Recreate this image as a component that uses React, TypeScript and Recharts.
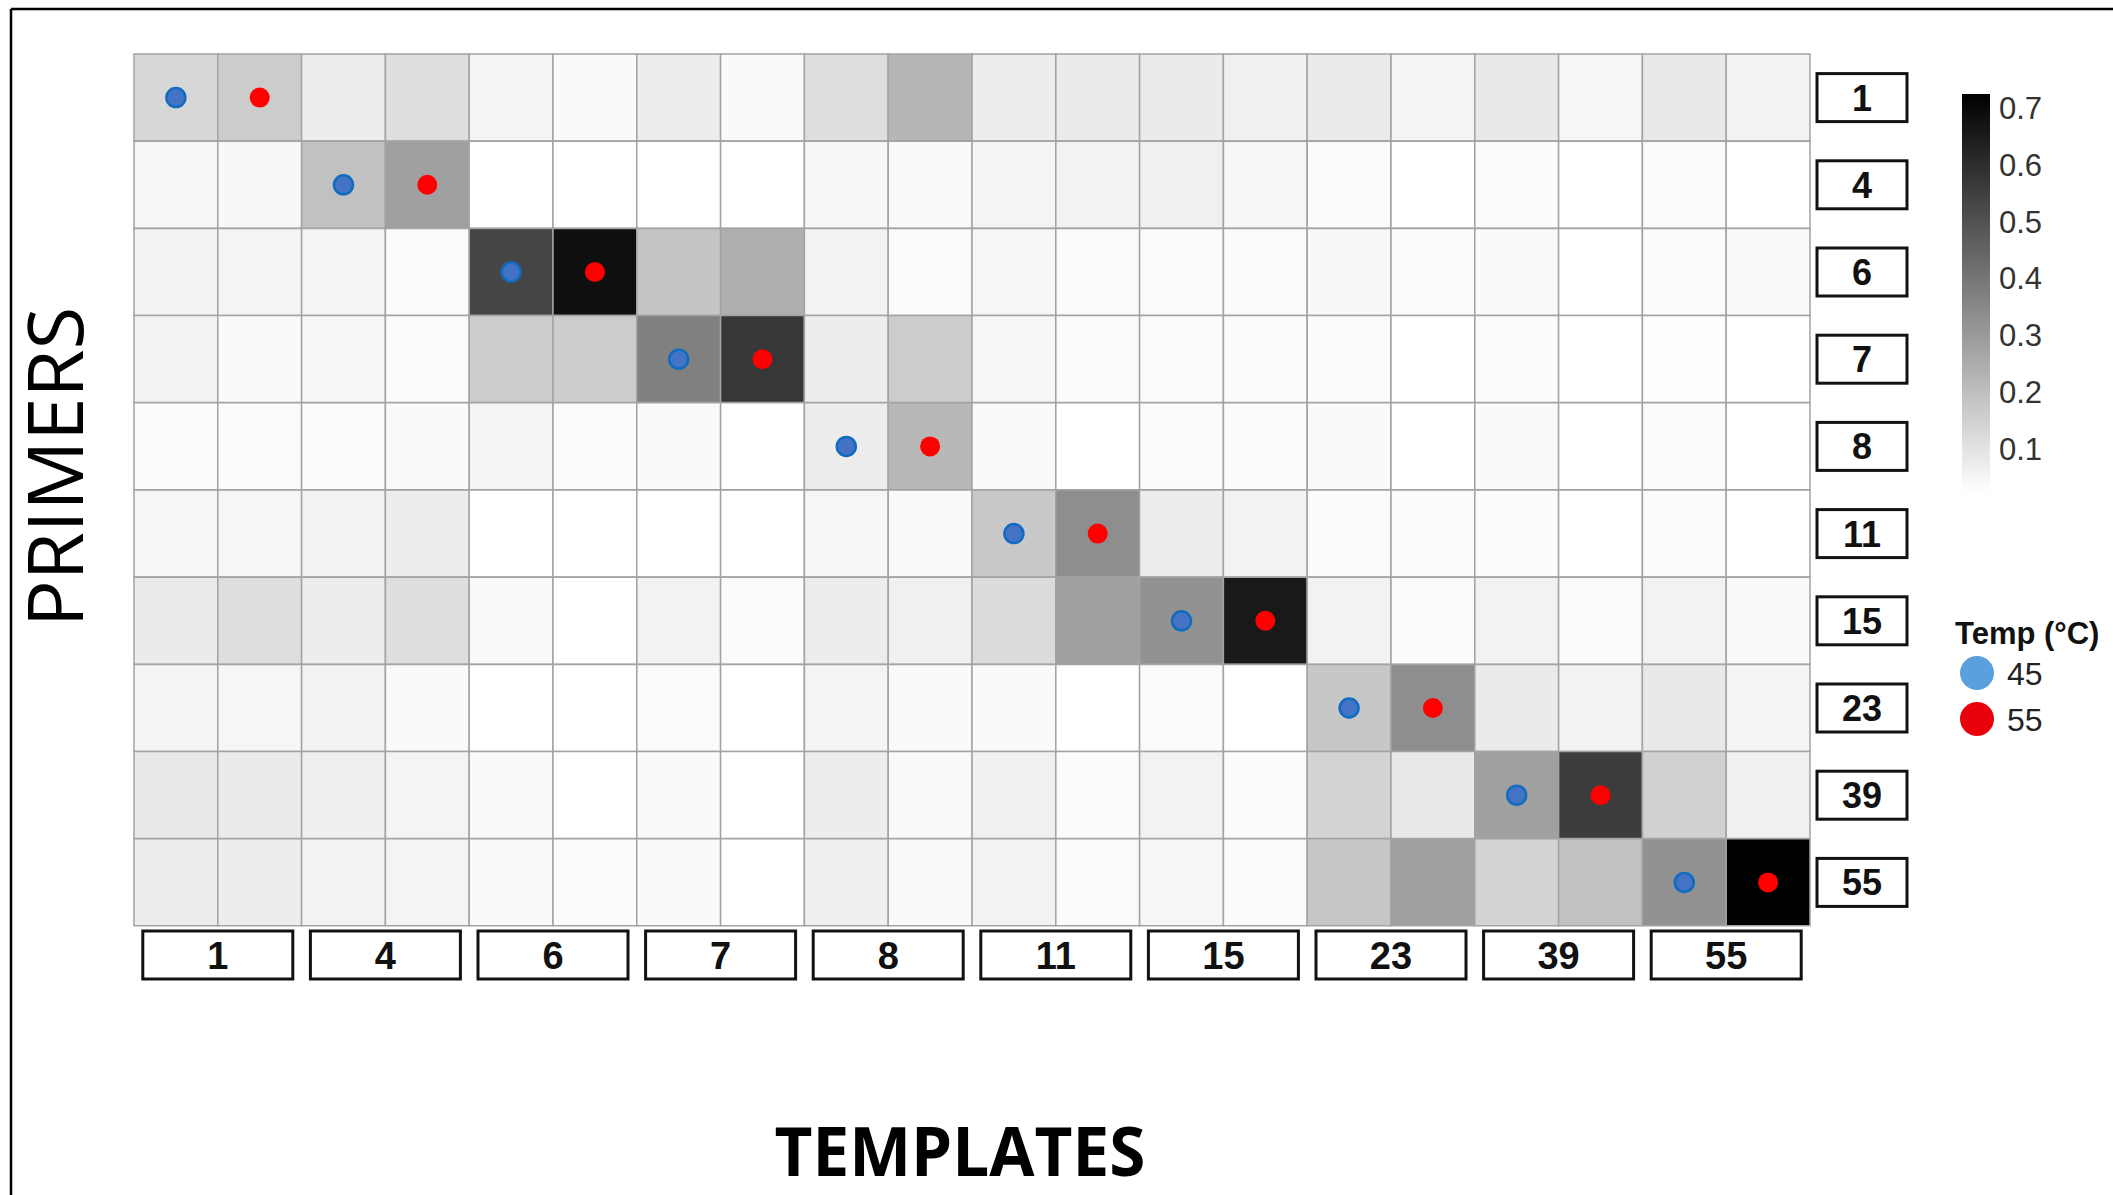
import React from "react";
import {
  BarChart,
  Bar,
  Cell,
  XAxis,
  YAxis,
  ScatterChart,
  Scatter,
} from "recharts";

// row / column labels
const primers = ["1", "4", "6", "7", "8", "11", "15", "23", "39", "55"];
const templates = ["1", "4", "6", "7", "8", "11", "15", "23", "39", "55"];
const temps = [45, 55];

// heat values per primer, 20 columns = template x temp (45, 55)
const p1 = [0.11, 0.14, 0.05, 0.09, 0.03, 0.015, 0.05, 0.015, 0.09, 0.2, 0.05, 0.055, 0.055, 0.04, 0.055, 0.03, 0.06, 0.025, 0.06, 0.035];
const p4 = [0.025, 0.02, 0.17, 0.26, 0, 0, 0, 0, 0.02, 0.015, 0.03, 0.035, 0.04, 0.025, 0.01, 0, 0.01, 0, 0.01, 0];
const p6 = [0.035, 0.03, 0.03, 0.01, 0.51, 0.66, 0.16, 0.22, 0.035, 0.01, 0.025, 0.01, 0.01, 0.01, 0.02, 0.01, 0.015, 0, 0.01, 0.015];
const p7 = [0.035, 0.015, 0.025, 0.01, 0.14, 0.14, 0.35, 0.55, 0.05, 0.14, 0.025, 0.01, 0.01, 0.01, 0.01, 0, 0.01, 0, 0.005, 0];
const p8 = [0.01, 0.01, 0.01, 0.015, 0.03, 0.01, 0.015, 0, 0.05, 0.195, 0.015, 0, 0.01, 0.01, 0.015, 0, 0.015, 0, 0.01, 0];
const p11 = [0.025, 0.025, 0.035, 0.05, 0, 0, 0, 0, 0.025, 0.015, 0.15, 0.31, 0.05, 0.035, 0.01, 0.01, 0.01, 0, 0.01, 0];
const p15 = [0.055, 0.09, 0.05, 0.09, 0.015, 0, 0.035, 0.01, 0.05, 0.04, 0.1, 0.26, 0.3, 0.63, 0.035, 0.01, 0.035, 0.01, 0.035, 0.015];
const p23 = [0.03, 0.025, 0.035, 0.015, 0, 0, 0.01, 0, 0.03, 0.015, 0.015, 0, 0.01, 0, 0.155, 0.31, 0.055, 0.035, 0.06, 0.03];
const p39 = [0.06, 0.055, 0.045, 0.03, 0.015, 0, 0.015, 0, 0.05, 0.015, 0.04, 0.01, 0.035, 0.01, 0.12, 0.06, 0.26, 0.535, 0.125, 0.04];
const p55 = [0.05, 0.05, 0.035, 0.03, 0.015, 0.01, 0.015, 0, 0.045, 0.015, 0.035, 0.01, 0.025, 0.01, 0.155, 0.26, 0.12, 0.17, 0.3, 0.7];
const heat = [p1, p4, p6, p7, p8, p11, p15, p23, p39, p55];

// matching primer/template pairs marked with a dot
const marks = [
  { primer: "1", template: "1" },
  { primer: "4", template: "4" },
  { primer: "6", template: "6" },
  { primer: "7", template: "7" },
  { primer: "8", template: "8" },
  { primer: "11", template: "11" },
  { primer: "15", template: "15" },
  { primer: "23", template: "23" },
  { primer: "39", template: "39" },
  { primer: "55", template: "55" },
];

const scaleTicks = [0.7, 0.6, 0.5, 0.4, 0.3, 0.2, 0.1];
const vMax = 0.7;

const nCols = templates.length * temps.length;
const colKeys = Array.from({ length: nCols }, (_, j) => `c${j}`);

const rows = primers.map((p) => {
  const r: Record<string, any> = { primer: p };
  colKeys.forEach((k) => (r[k] = 1));
  return r;
});

const dotData = temps.map((t, ti) =>
  marks.map((m) => ({
    x: templates.indexOf(m.template) * temps.length + ti + 0.5,
    y: primers.indexOf(m.primer) + 0.5,
  }))
);

const grey = (v: number) => {
  const g = Math.round(255 * (1 - Math.min(v, vMax) / vMax));
  return `rgb(${g},${g},${g})`;
};

const W = 2113;
const H = 1195;
const plot = { left: 134, top: 54, right: 1810, bottom: 926 };
const font = "'Liberation Sans', Arial, sans-serif";

const BottomTick = (props: any) => {
  const { x, y, payload } = props;
  const label = templates[(payload.value - 1) / 2];
  return (
    <g>
      <rect x={x - 75} y={y + 5} width={150} height={48} fill="#fff" stroke="#111" strokeWidth={3} />
      <text x={x} y={y + 43} textAnchor="middle" fontFamily={font} fontWeight="bold" fontSize={38} fill="#111">
        {label}
      </text>
    </g>
  );
};

const RightTick = (props: any) => {
  const { x, y, payload } = props;
  return (
    <g>
      <rect x={x + 7} y={y - 24} width={90} height={48} fill="#fff" stroke="#111" strokeWidth={3} />
      <text x={x + 52} y={y + 13} textAnchor="middle" fontFamily={font} fontWeight="bold" fontSize={36} fill="#111">
        {payload.value}
      </text>
    </g>
  );
};

const Dot45 = (p: any) => <circle cx={p.cx} cy={p.cy} r={9.5} fill="#4472c4" stroke="#0f6cc0" strokeWidth={2.5} />;
const Dot55 = (p: any) => <circle cx={p.cx} cy={p.cy} r={10} fill="#ff0000" />;

const barY = (v: number) => 108 + (vMax - v) * 568;

export default function App() {
  return (
    <div style={{ position: "absolute", left: 0, top: 0, width: W, height: H, background: "#fff" }}>
      <div style={{ position: "absolute", left: 0, top: 0 }}>
        <BarChart
          width={W}
          height={H}
          data={rows}
          layout="vertical"
          barCategoryGap={0}
          barGap={0}
          margin={{ top: plot.top, left: plot.left, right: W - plot.right - 100, bottom: H - plot.bottom - 60 }}
        >
          <XAxis
            type="number"
            domain={[0, nCols]}
            ticks={templates.map((_, i) => i * 2 + 1)}
            tick={<BottomTick />}
            tickLine={false}
            axisLine={false}
            tickSize={0}
            tickMargin={0}
            height={60}
            interval={0}
          />
          <YAxis
            type="category"
            dataKey="primer"
            orientation="right"
            width={100}
            tick={<RightTick />}
            tickLine={false}
            axisLine={false}
            tickSize={0}
            tickMargin={0}
            interval={0}
          />
          {colKeys.map((k, j) => (
            <Bar key={k} dataKey={k} stackId="s" isAnimationActive={false} stroke="#a3a3a3" strokeWidth={1.5}>
              {heat.map((row, i) => (
                <Cell key={i} fill={grey(row[j])} />
              ))}
            </Bar>
          ))}
        </BarChart>
      </div>
      <div style={{ position: "absolute", left: 0, top: 0 }}>
        <ScatterChart
          width={W}
          height={H}
          margin={{ top: plot.top, left: plot.left, right: W - plot.right, bottom: H - plot.bottom }}
        >
          <XAxis type="number" dataKey="x" domain={[0, nCols]} hide />
          <YAxis type="number" dataKey="y" domain={[0, primers.length]} reversed hide />
          <Scatter data={dotData[0]} shape={<Dot45 />} isAnimationActive={false} />
          <Scatter data={dotData[1]} shape={<Dot55 />} isAnimationActive={false} />
        </ScatterChart>
      </div>
      <svg width={W} height={H} style={{ position: "absolute", left: 0, top: 0, pointerEvents: "none" }}>
        <defs>
          <linearGradient id="cbar" x1="0" y1="0" x2="0" y2="1">
            <stop offset="0%" stopColor="#000" />
            <stop offset="100%" stopColor="#fff" />
          </linearGradient>
        </defs>
        <line x1={11} y1={9} x2={11} y2={H} stroke="#000" strokeWidth={2.5} />
        <line x1={11} y1={9} x2={W} y2={9} stroke="#000" strokeWidth={2.5} />
        <rect x={1962} y={94} width={28} height={399} fill="url(#cbar)" />
        {scaleTicks.map((t) => (
          <text key={t} x={1999} y={barY(t) + 11} fontFamily={font} fontSize={31} fill="#333">
            {t.toFixed(1)}
          </text>
        ))}
        <text x={1955} y={644} fontFamily={font} fontWeight="bold" fontSize={31} fill="#111">
          Temp (°C)
        </text>
        <circle cx={1977} cy={673} r={17} fill="#5aa0dc" />
        <circle cx={1977} cy={719} r={17} fill="#e8000b" />
        <text x={2007} y={685} fontFamily={font} fontSize={32} fill="#222">
          {temps[0]}
        </text>
        <text x={2007} y={731} fontFamily={font} fontSize={32} fill="#222">
          {temps[1]}
        </text>
        <text
          x={83}
          y={467}
          transform="rotate(-90, 83, 467)"
          textAnchor="middle"
          fontFamily="'Open Sans', sans-serif"
          fontSize={76}
          textLength={320}
          lengthAdjust="spacingAndGlyphs"
          fill="#000"
        >
          PRIMERS
        </text>
        <text
          x={960}
          y={1176}
          textAnchor="middle"
          fontFamily="'Open Sans', sans-serif"
          fontWeight="bold"
          fontSize={68}
          textLength={371}
          lengthAdjust="spacingAndGlyphs"
          fill="#000"
        >
          TEMPLATES
        </text>
      </svg>
    </div>
  );
}
